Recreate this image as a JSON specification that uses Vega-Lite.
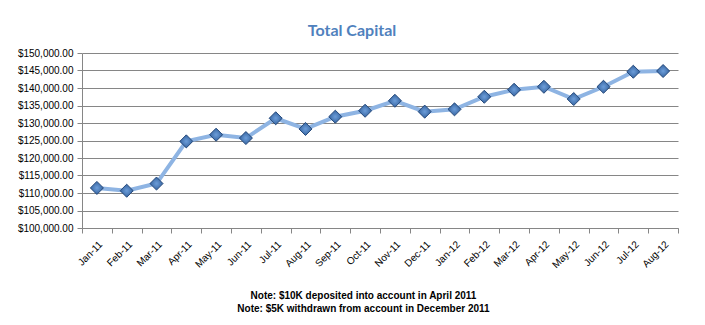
{
  "$schema": "https://vega.github.io/schema/vega-lite/v6.json",
  "width": 596,
  "height": 175,
  "autosize": "none",
  "padding": {"left": 82, "top": 53, "right": 27, "bottom": 97},
  "background": "white",
  "title": {"text": "Total Capital", "font": "Lato", "fontSize": 16, "fontWeight": "bold", "color": "#4F81BD", "anchor": "middle", "offset": 9, "dx": -28},
  "data": {"values": [
    {"month": "Jan-11", "capital": 111450},
    {"month": "Feb-11", "capital": 110650},
    {"month": "Mar-11", "capital": 112700},
    {"month": "Apr-11", "capital": 124750},
    {"month": "May-11", "capital": 126650},
    {"month": "Jun-11", "capital": 125700},
    {"month": "Jul-11", "capital": 131350},
    {"month": "Aug-11", "capital": 128300},
    {"month": "Sep-11", "capital": 131800},
    {"month": "Oct-11", "capital": 133500},
    {"month": "Nov-11", "capital": 136350},
    {"month": "Dec-11", "capital": 133250},
    {"month": "Jan-12", "capital": 133900},
    {"month": "Feb-12", "capital": 137500},
    {"month": "Mar-12", "capital": 139500},
    {"month": "Apr-12", "capital": 140350},
    {"month": "May-12", "capital": 136850},
    {"month": "Jun-12", "capital": 140350},
    {"month": "Jul-12", "capital": 144650},
    {"month": "Aug-12", "capital": 144850}
  ]},
  "encoding": {
    "x": {
      "field": "month", "type": "ordinal", "sort": null,
      "scale": {"type": "band", "paddingInner": 0, "paddingOuter": 0},
      "axis": {
        "title": ["Note: $10K deposited into account in April 2011", "Note: $5K withdrawn from account in December 2011"],
        "labelAngle": -45, "tickBand": "extent",
        "domainColor": "#868686", "tickColor": "#868686", "tickSize": 5,
        "labelFont": "Liberation Sans", "labelFontSize": 10, "labelColor": "#000000", "labelPadding": 6,
        "titleFont": "Liberation Sans", "titleFontSize": 10, "titleFontWeight": "bold", "titleColor": "#000000",
        "titleX": 281, "titleY": 62, "titleAlign": "center", "titleBaseline": "top", "titleLineHeight": 13.5
      }
    },
    "y": {
      "field": "capital", "type": "quantitative",
      "scale": {"domain": [100000, 150000], "nice": false, "zero": false},
      "axis": {
        "title": null, "format": "$,.2f",
        "values": [100000, 105000, 110000, 115000, 120000, 125000, 130000, 135000, 140000, 145000, 150000],
        "grid": true, "gridColor": "#868686", "gridOpacity": 1,
        "domainColor": "#868686", "tickColor": "#868686", "tickSize": 5,
        "labelFont": "Liberation Sans", "labelFontSize": 10, "labelColor": "#000000", "labelPadding": 4
      }
    }
  },
  "layer": [
    {"mark": {"type": "line", "color": "#8EB4E3", "strokeWidth": 4}},
    {"mark": {"type": "point", "shape": "diamond", "size": 170, "filled": true, "opacity": 1,
      "fill": {"gradient": "radial", "x1": 0.5, "y1": 0.5, "x2": 0.5, "y2": 0.5, "r1": 0, "r2": 0.6,
        "stops": [{"offset": 0, "color": "#6E9FDB"}, {"offset": 1, "color": "#2A5894"}]},
      "stroke": "#24487A", "strokeWidth": 1}}
  ],
  "config": {"view": {"stroke": null}}
}
